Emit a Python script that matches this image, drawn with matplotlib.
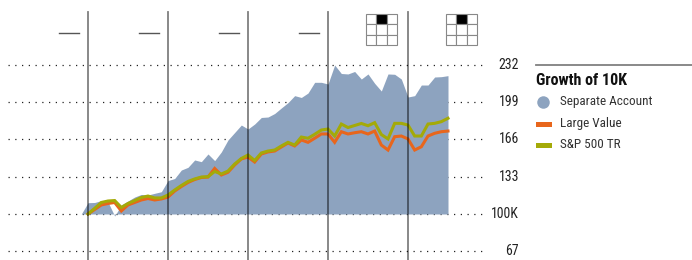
import matplotlib
matplotlib.use("Agg")
import matplotlib.pyplot as plt
from matplotlib import font_manager as fm
from matplotlib.patches import Rectangle

# ---------------- data ----------------
# monthly points; month 0 is the first year boundary
sa_months = list(range(-1, 55))
separate_account = [100.0, 110.0, 110.2, 111.9, 110.6, 98.2, 108.0, 111.5, 115.0, 117.3, 116.8, 118.3,
                    119.7, 129.6, 131.4, 138.9, 141.3, 147.8, 146.3, 153.1, 147.2, 154.9, 165.5, 172.1,
                    178.7, 175.2, 179.6, 185.4, 185.8, 188.9, 193.8, 198.5, 204.7, 203.1, 207.0, 216.5,
                    216.5, 215.0, 231.8, 224.3, 223.9, 226.1, 219.4, 223.9, 215.6, 208.8, 223.9, 223.6,
                    219.4, 203.5, 204.7, 214.1, 214.1, 221.2, 221.5, 222.4]
line_months = list(range(0, 55))
large_value = [100.0, 104.0, 108.0, 109.3, 110.2, 102.7, 108.0, 110.2, 112.4, 113.7, 112.4, 113.3,
               115.0, 120.3, 124.3, 127.9, 130.5, 132.3, 132.7, 140.3, 134.5, 136.9, 143.4, 148.7,
               150.4, 146.0, 153.1, 154.9, 155.7, 159.3, 162.8, 160.2, 165.5, 163.4, 167.0, 170.8,
               170.8, 163.4, 172.8, 170.8, 171.9, 172.8, 170.8, 173.4, 161.0, 156.6, 168.4, 169.0,
               166.4, 156.6, 159.5, 169.0, 171.4, 172.8, 173.4]
sp500_tr = [100.0, 105.0, 110.2, 111.5, 111.9, 105.8, 109.3, 111.9, 114.6, 115.9, 114.2, 114.2,
            116.8, 121.2, 125.2, 128.8, 131.0, 132.7, 133.0, 137.6, 135.4, 138.0, 144.2, 149.1,
            152.2, 147.3, 154.0, 155.7, 156.6, 160.2, 163.4, 161.0, 168.1, 167.0, 170.5, 174.3,
            175.2, 169.0, 179.6, 176.5, 178.3, 180.1, 178.1, 180.8, 170.3, 166.4, 180.2, 180.2,
            178.7, 169.0, 169.0, 179.6, 180.2, 181.7, 184.7]
y_ticks = [67, 100, 133, 166, 199, 232]
y_tick_labels = ["67", "100K", "133", "166", "199", "232"]
year_boundaries = [0, 12, 24, 36, 48]
legend_title = "Growth of 10K"
legend_labels = ["Separate Account", "Large Value", "S&P 500 TR"]

# ---------------- style ----------------
C_AREA = "#8DA3BF"
C_ORANGE = "#E8661C"
C_OLIVE = "#A4AA08"

names = {f.name for f in fm.fontManager.ttflist}
narrow = None
for cand in ["Roboto Condensed", "Liberation Sans Narrow", "Arial Narrow", "Open Sans Condensed"]:
    if cand in names:
        narrow = cand
        break
if narrow is None:
    narrow = "Roboto"
plt.rcParams['font.family'] = [narrow, 'DejaVu Sans']

W, H = 692, 260
fig = plt.figure(figsize=(W / 100, H / 100), dpi=100)

# data axes mapped so that month 0 -> x=88px, 1 month = 6.667px; 100 -> y=214px, 33 -> 37.3px
px_per_month = 80 / 12
px_per_unit = 37.3 / 33
ax = fig.add_axes([0, 0, 1, 1])
ax.set_xlim((0 - 88) / px_per_month, (W - 88) / px_per_month)
ax.set_ylim(100 - (H - 214) / px_per_unit, 100 + 214 / px_per_unit)
ax.axis("off")

# dotted grid
gx0 = (8 - 88) / px_per_month
gx1 = (484 - 88) / px_per_month
for v in y_ticks:
    ax.plot([gx0, gx1], [v, v], color="#222222", lw=0.9, ls=(0, (1, 4.4)), zorder=1)

ax.fill_between(sa_months, 100, separate_account, color=C_AREA, lw=0, zorder=2)
ax.plot(line_months, large_value, color=C_ORANGE, lw=2.2, zorder=3, solid_joinstyle="miter")
ax.plot(line_months, sp500_tr, color=C_OLIVE, lw=2.2, zorder=4, solid_joinstyle="miter")

lx = (519 - 88) / px_per_month
for v, t in zip(y_ticks, y_tick_labels):
    ax.text(lx, v, t, ha="right", va="center", fontsize=10, color="#222222", zorder=5)

# overlay in pixel coordinates
ov = fig.add_axes([0, 0, 1, 1], facecolor="none")
ov.set_xlim(0, W)
ov.set_ylim(H, 0)
ov.axis("off")

for m in year_boundaries:
    xp = 88 + m * px_per_month
    ov.plot([xp, xp], [12, H], color="black", alpha=0.5, lw=1.3, zorder=6)

# rating dashes for first four columns
for i in range(4):
    x0 = 59 + 80 * i
    ov.plot([x0, x0 + 20], [33, 33], color="#555555", lw=1.0)

# style boxes
for bx in [366, 446]:
    cell = 31 / 3
    for r in range(3):
        for c in range(3):
            fc = "black" if (r == 0 and c == 1) else "white"
            ov.add_patch(Rectangle((bx + c * cell, 14 + r * cell), cell, cell,
                                   facecolor=fc, edgecolor="#888888", lw=0.8))

# legend
ov.plot([536, W], [64.5, 64.5], color="#808080", lw=1.3)
ov.text(536, 80.5, legend_title, ha="left", va="center", fontsize=11.5, fontweight="bold", color="#111111")
ov.plot([542.7], [102], marker="o", ms=9, color=C_AREA, mec="none")
ov.add_patch(Rectangle((536, 121.5), 16, 5, facecolor=C_ORANGE, edgecolor="none"))
ov.add_patch(Rectangle((536, 142.5), 16, 5, facecolor=C_OLIVE, edgecolor="none"))
for yy, t in zip([102, 124, 145], legend_labels):
    ov.text(560, yy, t, ha="left", va="center", fontsize=9.5, color="#333333")

fig.savefig("out.png", dpi=100)
